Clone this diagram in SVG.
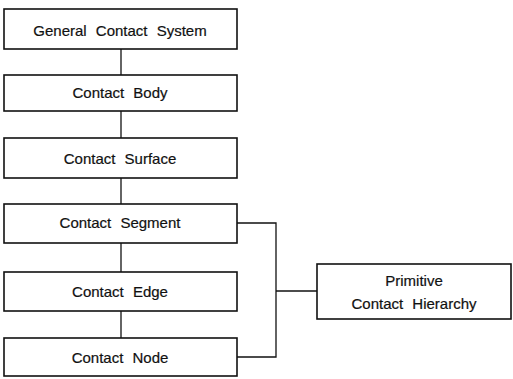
<svg xmlns="http://www.w3.org/2000/svg" width="513" height="379" viewBox="0 0 513 379">
<style>
.box{fill:#fff;stroke:#111;stroke-width:1.6}
.t{font-family:"Liberation Sans",Arial,sans-serif;font-size:15px;fill:#111;text-anchor:middle;word-spacing:5px;stroke:#111;stroke-width:0.2}
.c{fill:none;stroke:#111;stroke-width:1.3}
</style>
<rect width="513" height="379" fill="#fff"/>
<g id="connectors">
<line class="c" x1="121" y1="49" x2="121" y2="75"/>
<line class="c" x1="121" y1="111" x2="121" y2="138"/>
<line class="c" x1="121" y1="178" x2="121" y2="204"/>
<line class="c" x1="121" y1="243" x2="121" y2="272"/>
<line class="c" x1="121" y1="311" x2="121" y2="338"/>
<polyline class="c" points="237,223 276,223 276,357 237,357"/>
<line class="c" x1="276" y1="291" x2="317" y2="291"/>
</g>
<g id="general-contact-system"><rect class="box" x="4" y="9" width="233" height="40"/><text class="t" x="120" y="36">General Contact System</text></g>
<g id="contact-body"><rect class="box" x="4" y="75" width="233" height="36"/><text class="t" x="120" y="98">Contact Body</text></g>
<g id="contact-surface"><rect class="box" x="4" y="138" width="233" height="40"/><text class="t" x="120" y="164">Contact Surface</text></g>
<g id="contact-segment"><rect class="box" x="4" y="204" width="233" height="39"/><text class="t" x="120" y="228">Contact Segment</text></g>
<g id="contact-edge"><rect class="box" x="4" y="272" width="233" height="39"/><text class="t" x="120" y="297">Contact Edge</text></g>
<g id="contact-node"><rect class="box" x="4" y="338" width="233" height="38"/><text class="t" x="120" y="363">Contact Node</text></g>
<g id="primitive-contact-hierarchy"><rect class="box" x="317" y="264" width="194" height="55"/><text class="t" x="414" y="286">Primitive</text><text class="t" x="414" y="309">Contact Hierarchy</text></g>
</svg>
